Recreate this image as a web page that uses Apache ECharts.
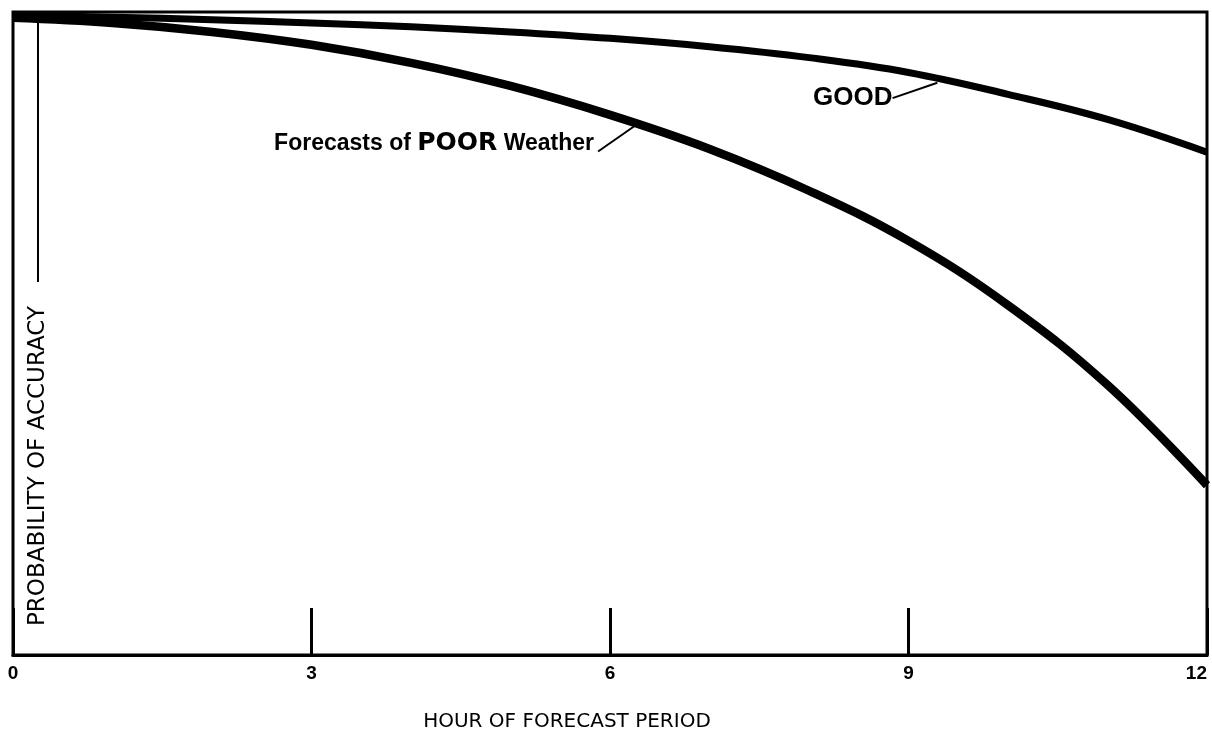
<!DOCTYPE html>
<html>
<head>
<meta charset="utf-8">
<script src="https://cdn.jsdelivr.net/npm/echarts@6/dist/echarts.min.js"></script>
<style>
html,body{margin:0;padding:0;background:#fff;}
#chart{width:1212px;height:732px;}
</style>
</head>
<body>
<div id="chart"></div>
<script>
// Hours of forecast period
const hours = [0,1,2,3,4,5,6,7,8,9,10,11,12];
// Probability of accuracy (relative scale 0-100)
const goodWeather = [99.4,99.2,98.8,98.3,97.7,96.9,95.9,94.6,92.9,90.6,87.2,83.3,78.2];
const poorWeather = [99.1,98.3,96.9,94.9,92.1,88.5,84.0,78.7,72.2,64.4,54.4,42.0,26.4];
const xTicks = [0,3,6,9,12];
const xTitle = 'HOUR OF FORECAST PERIOD';
const yTitle = 'PROBABILITY OF ACCURACY';
const goodLabel = 'GOOD';
const poorLabelParts = ['Forecasts of ', 'POOR', ' Weather'];
// annotation anchors in data coordinates [hour, value]
const poorLeader = [[5.88, 78.3], [6.24, 82.2]];
const poorLabelAnchor = [5.86, 79.6];
const goodLeader = [[8.84, 86.6], [9.29, 89.0]];
const goodLabelAnchor = [8.86, 86.6];
const yTitleLine = [[0.25, 58.0], [0.25, 100]];

const chart = echarts.init(document.getElementById('chart'), null, {renderer:'canvas'});
const black = '#000';
const lineFont = '"Liberation Sans", "DejaVu Sans", sans-serif';

chart.setOption({
  animation: false,
  backgroundColor: '#fff',
  grid: {left: 13, right: 5, top: 12, bottom: 77, show: true, borderColor: black, borderWidth: 3, backgroundColor: 'transparent'},
  xAxis: {
    type: 'value', min: 0, max: 12, interval: 3,
    axisLine: {show: true, lineStyle: {color: black, width: 3}},
    axisTick: {show: true, inside: true, length: 47, lineStyle: {color: black, width: 3}},
    splitLine: {show: false},
    axisLabel: {
      color: black, fontSize: 19, fontWeight: 'bold', margin: 9,
      fontFamily: lineFont, alignMaxLabel: 'right',
      formatter: function(v){ return xTicks.indexOf(v) >= 0 ? String(v) : ''; }
    }
  },
  yAxis: {
    type: 'value', min: 0, max: 100,
    axisLine: {show: false}, axisTick: {show: false},
    axisLabel: {show: false}, splitLine: {show: false}
  },
  graphic: [
    {type: 'text', x: 567, y: 722, silent: true,
     style: {text: xTitle, fill: black, font: '20px "DejaVu Sans", sans-serif', textAlign: 'center', textVerticalAlign: 'middle'}},
    {type: 'text', x: 38, y: 466, rotation: Math.PI / 2, silent: true,
     style: {text: yTitle, fill: black, font: '23px "DejaVu Sans", sans-serif', textAlign: 'center', textVerticalAlign: 'middle'}}
  ],
  series: [
    {
      name: 'GOOD', type: 'line', smooth: 0.4, symbol: 'none',
      data: hours.map((h, i) => [h, goodWeather[i]]),
      lineStyle: {color: black, width: 7},
      markLine: {
        silent: true, symbol: 'none', label: {show: false},
        lineStyle: {color: black, width: 2, type: 'solid'},
        data: [
          [{coord: goodLeader[0]}, {coord: goodLeader[1]}],
          [{coord: yTitleLine[0]}, {coord: yTitleLine[1]}]
        ]
      },
      markPoint: {
        silent: true, symbol: 'circle', symbolSize: 0,
        data: [{coord: goodLabelAnchor, label: {
          show: true, position: 'left', distance: 2,
          formatter: goodLabel, color: black, fontSize: 26, fontWeight: 'bold', fontFamily: lineFont
        }}]
      }
    },
    {
      name: 'POOR', type: 'line', smooth: 0.4, symbol: 'none',
      data: hours.map((h, i) => [h, poorWeather[i]]),
      lineStyle: {color: black, width: 8.5},
      markLine: {
        silent: true, symbol: 'none', label: {show: false},
        lineStyle: {color: black, width: 2, type: 'solid'},
        data: [[{coord: poorLeader[0]}, {coord: poorLeader[1]}]]
      },
      markPoint: {
        silent: true, symbol: 'circle', symbolSize: 0,
        data: [{coord: poorLabelAnchor, label: {
          show: true, position: 'left', distance: 2,
          formatter: '{a|' + poorLabelParts[0] + '}{b|' + poorLabelParts[1] + '}{a|' + poorLabelParts[2] + '}',
          rich: {
            a: {color: black, fontSize: 23, fontWeight: 'bold', fontFamily: '"Liberation Sans Narrow", "Liberation Sans", sans-serif'},
            b: {color: black, fontSize: 25, fontWeight: 900, fontFamily: '"DejaVu Sans", sans-serif'}
          }
        }}]
      }
    }
  ]
});
</script>
</body>
</html>
